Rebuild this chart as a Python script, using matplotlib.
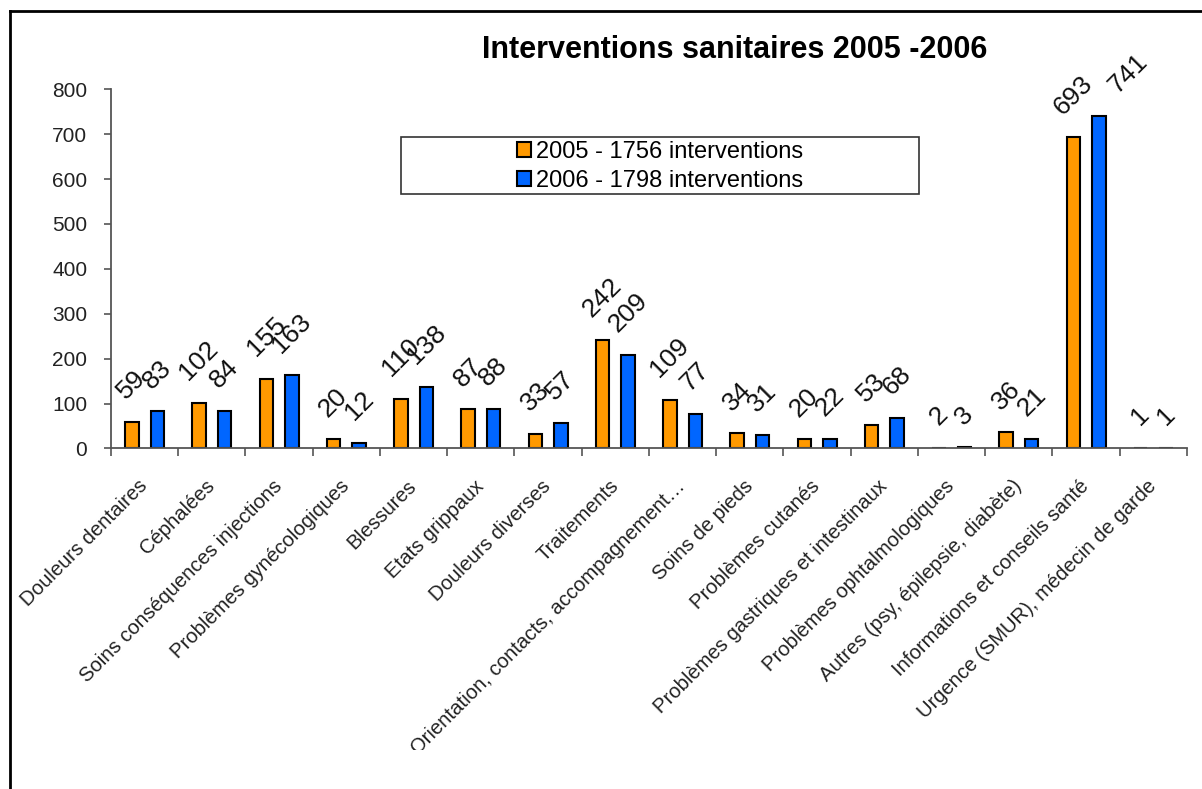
import matplotlib.pyplot as plt
import numpy as np
from matplotlib.lines import Line2D
from matplotlib.patches import Rectangle
from matplotlib.transforms import Bbox, TransformedBbox

plt.rcParams['font.family'] = ['Liberation Sans', 'DejaVu Sans']

# Données
categories = [
    'Douleurs dentaires', 'Céphalées', 'Soins conséquences injections',
    'Problèmes gynécologiques', 'Blessures', 'Etats grippaux',
    'Douleurs diverses', 'Traitements',
    'Orientation, contacts, accompagnement…', 'Soins de pieds',
    'Problèmes cutanés', 'Problèmes gastriques et intestinaux',
    'Problèmes ophtalmologiques', 'Autres (psy, épilepsie, diabète)',
    'Informations et conseils santé', 'Urgence (SMUR), médecin de garde',
]
values_2005 = [59, 102, 155, 20, 110, 87, 33, 242, 109, 34, 20, 53, 2, 36, 693, 1]
values_2006 = [83, 84, 163, 12, 138, 88, 57, 209, 77, 31, 22, 68, 3, 21, 741, 1]
labels = ['2005 - 1756 interventions', '2006 - 1798 interventions']
y_ticks = [0, 100, 200, 300, 400, 500, 600, 700, 800]

orange = '#FF9900'
blue = '#0066FF'

fig = plt.figure(figsize=(12.02, 7.89), dpi=100)
ax = fig.add_axes([0.0923, 0.4316, 0.8952, 0.4552])

x = np.arange(len(categories))
width = 0.2
b1 = ax.bar(x - 0.19, values_2005, width, color=orange, edgecolor='black', linewidth=1.5, label=labels[0])
b2 = ax.bar(x + 0.19, values_2006, width, color=blue, edgecolor='black', linewidth=1.5, label=labels[1])

# étiquettes de valeurs, tournées à 45° (l'étiquette 741 est décalée à droite dans l'original)
for bars, vals in [(b1, values_2005), (b2, values_2006)]:
    for rect, v in zip(bars, vals):
        dx = 21 if (bars is b2 and v == 741) else 0
        ax.annotate(str(v), (rect.get_x() + rect.get_width() / 2, v),
                    xytext=(dx, 13), textcoords='offset points',
                    rotation=45, ha='center', va='bottom', fontsize=19,
                    color='#111111', annotation_clip=False)

ax.set_xlim(-0.5, len(categories) - 0.5)
ax.set_ylim(0, 800)
ax.set_yticks(y_ticks)
ax.tick_params(axis='y', labelsize=15, length=5, width=1.2, color='#555555', labelcolor='#222222', pad=12)

# repères entre les catégories, libellés au centre
ax.set_xticks(np.arange(-0.5, len(categories)), minor=True)
ax.set_xticks(x)
ax.set_xticklabels(categories, rotation=45, ha='right', va='center', rotation_mode='anchor')
ax.tick_params(axis='x', which='major', length=0, labelsize=14.6, labelcolor='#222222', pad=25)
ax.tick_params(axis='x', which='minor', length=6, width=1.2, color='#555555')

for s in ['top', 'right']:
    ax.spines[s].set_visible(False)
for s in ['left', 'bottom']:
    ax.spines[s].set_color('#555555')
    ax.spines[s].set_linewidth(1.3)

# les libellés sont coupés en bas comme dans la zone de graphique d'origine
clip = TransformedBbox(Bbox([[0, 0.05], [1, 1]]), fig.transFigure)
for t in ax.get_xticklabels():
    t.set_clip_box(clip)
    t.set_clip_on(True)

fig.text(0.611, 0.937, 'Interventions sanitaires 2005 -2006', ha='center', va='center',
         fontsize=22, fontweight='bold')

# légende
ax.add_patch(Rectangle((0.2695, 0.7085), 0.4815, 0.1585, transform=ax.transAxes,
                       facecolor='white', edgecolor='#333333', linewidth=1.2, zorder=3))
leg = ax.legend(loc='center', bbox_to_anchor=(0.51, 0.786), frameon=False, fontsize=17,
                handlelength=0.6, handleheight=0.6, handletextpad=0.2, labelspacing=0.3)
leg.set_zorder(4)

# cadre de la figure
fig.add_artist(Line2D([0.0083, 0.0083], [0, 0.986], transform=fig.transFigure, color='black', linewidth=2))
fig.add_artist(Line2D([0.0083, 1], [0.986, 0.986], transform=fig.transFigure, color='black', linewidth=2))

fig.savefig('out.png', dpi=100)
